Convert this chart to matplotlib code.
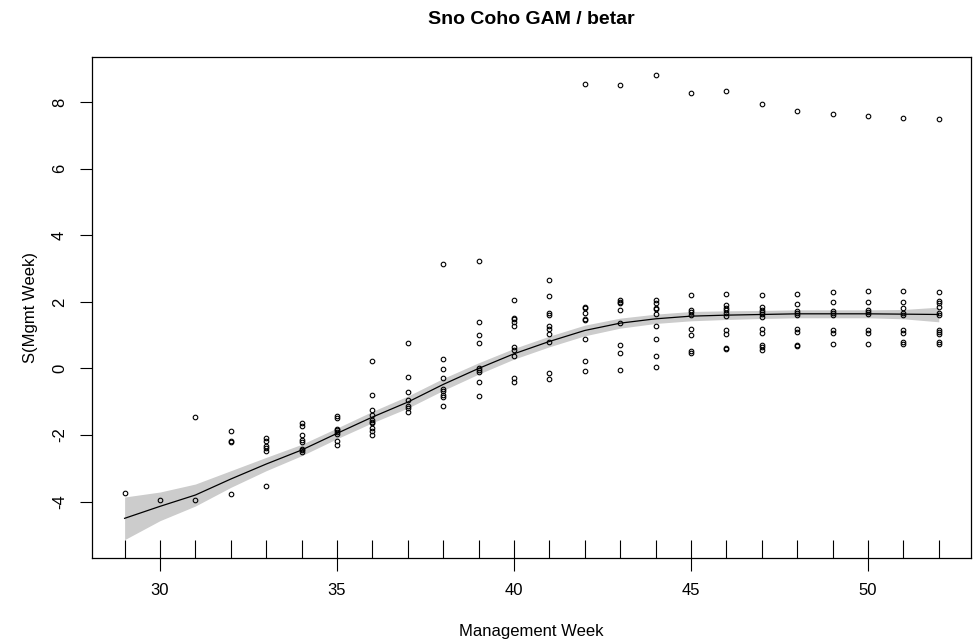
"""
Sno Coho GAM / betar : partial effect of management week, with residual points
"""

import matplotlib
matplotlib.use("Agg")
from matplotlib import pyplot as plt
import numpy as np

# ------------------------------------
# Data

weeks = list(range(29, 53))

# partial residuals per week (one list per week, same order as weeks)
resid = [
    [-3.73],                                                        # 29
    [-3.94],                                                        # 30
    [-1.46, -3.94],                                                 # 31
    [-1.87, -2.17, -2.22, -3.78],                                   # 32
    [-2.10, -2.17, -2.32, -2.40, -2.49, -3.54],                     # 33
    [-1.64, -1.72, -2.00, -2.16, -2.20, -2.41, -2.46, -2.51],       # 34
    [-1.43, -1.48, -1.81, -1.86, -1.91, -1.96, -2.17, -2.31],       # 35
    [0.22, -0.81, -1.24, -1.41, -1.56, -1.61, -1.64, -1.78, -1.89, -2.00],  # 36
    [0.75, -0.25, -0.72, -0.96, -1.13, -1.19, -1.31],               # 37
    [3.13, 0.28, -0.03, -0.28, -0.61, -0.68, -0.81, -0.86, -1.12],  # 38
    [3.22, 1.40, 1.00, 0.75, 0.00, -0.06, -0.12, -0.40, -0.84],     # 39
    [2.05, 1.52, 1.47, 1.40, 1.28, 0.64, 0.54, 0.37, -0.28, -0.40], # 40
    [2.66, 2.16, 1.66, 1.61, 1.27, 1.19, 1.02, 0.80, -0.13, -0.32], # 41
    [8.55, 1.83, 1.80, 1.66, 1.49, 1.46, 0.87, 0.21, -0.07],        # 42
    [8.52, 2.05, 2.00, 1.95, 1.74, 1.36, 0.71, 0.46, -0.04],        # 43
    [8.80, 2.05, 1.95, 1.81, 1.77, 1.64, 1.27, 0.87, 0.37, 0.03],   # 44
    [8.27, 2.20, 1.76, 1.69, 1.61, 1.19, 0.99, 0.51, 0.47],         # 45
    [8.33, 2.23, 1.89, 1.82, 1.74, 1.66, 1.58, 1.16, 1.04, 0.61, 0.57],  # 46
    [7.93, 2.20, 1.84, 1.76, 1.69, 1.62, 1.54, 1.19, 1.06, 0.71, 0.64, 0.54],  # 47
    [7.73, 2.23, 1.92, 1.71, 1.66, 1.61, 1.19, 1.09, 0.69, 0.67],   # 48
    [7.65, 2.28, 1.99, 1.71, 1.67, 1.61, 1.14, 1.06, 0.74],         # 49
    [7.59, 2.32, 1.99, 1.76, 1.69, 1.62, 1.14, 1.07, 0.74],         # 50
    [7.53, 2.32, 1.99, 1.80, 1.65, 1.59, 1.16, 1.07, 0.78, 0.74],   # 51
    [7.49, 2.28, 2.02, 1.95, 1.84, 1.65, 1.59, 1.16, 1.09, 1.02, 0.78, 0.74],  # 52
]

# fitted smooth and its standard-error half width
fit = [-4.50, -4.14, -3.80, -3.32, -2.87, -2.45, -1.95, -1.46, -1.01, -0.48,
       0.00, 0.44, 0.81, 1.14, 1.36, 1.49, 1.57, 1.60, 1.62, 1.64,
       1.64, 1.64, 1.63, 1.62]
se = [0.64, 0.43, 0.33, 0.25, 0.20, 0.17, 0.16, 0.17, 0.18, 0.18,
      0.17, 0.16, 0.16, 0.16, 0.15, 0.14, 0.14, 0.13, 0.12, 0.12,
      0.12, 0.12, 0.14, 0.22]

xticks = [30, 35, 40, 45, 50]
yticks = [-4, -2, 0, 2, 4, 6, 8]

# ------------------------------------
# Plot

plt.rcParams['font.family'] = ['Liberation Sans', 'DejaVu Sans']

fig = plt.figure(figsize=(9.77, 6.39), dpi=100)
ax = fig.add_axes([0.0942, 0.1268, 0.9, 0.784])

wk = np.array(weeks, dtype=float)
fit = np.array(fit)
se = np.array(se)

# shaded confidence band and smooth line
ax.fill_between(wk, fit - se, fit + se, color='#cccccc', linewidth=0, zorder=1)
ax.plot(wk, fit, color='black', linewidth=0.9, zorder=2)

# partial residuals as open circles
px = np.concatenate([[w] * len(r) for w, r in zip(weeks, resid)])
py = np.concatenate(resid)
ax.plot(px, py, 'o', markersize=3.3, markerfacecolor='none',
        markeredgecolor='black', markeredgewidth=0.8, zorder=3)

# rug along the bottom (inside the box, pointing up)
ax.vlines(wk, 0, 0.036, transform=ax.get_xaxis_transform(),
          color='black', linewidth=0.8, zorder=3)

# cosmetics, R style
ax.set_xlim(28.08, 52.92)
ax.set_ylim(-5.69, 9.35)
ax.set_xticks(xticks)
ax.set_yticks(yticks)
ax.set_yticklabels([str(v) for v in yticks], rotation=90, va='center')
ax.tick_params(direction='out', length=9, width=0.8, labelsize=12, pad=9)
for s in ax.spines.values():
    s.set_linewidth(0.9)

ax.set_xlabel("Management Week", fontsize=12, labelpad=19)
ax.set_ylabel("S(Mgmt Week)", fontsize=12, labelpad=10)
ax.set_title("Sno Coho GAM / betar", fontsize=14, fontweight='bold', pad=24)

fig.savefig("out.png", dpi=100)
